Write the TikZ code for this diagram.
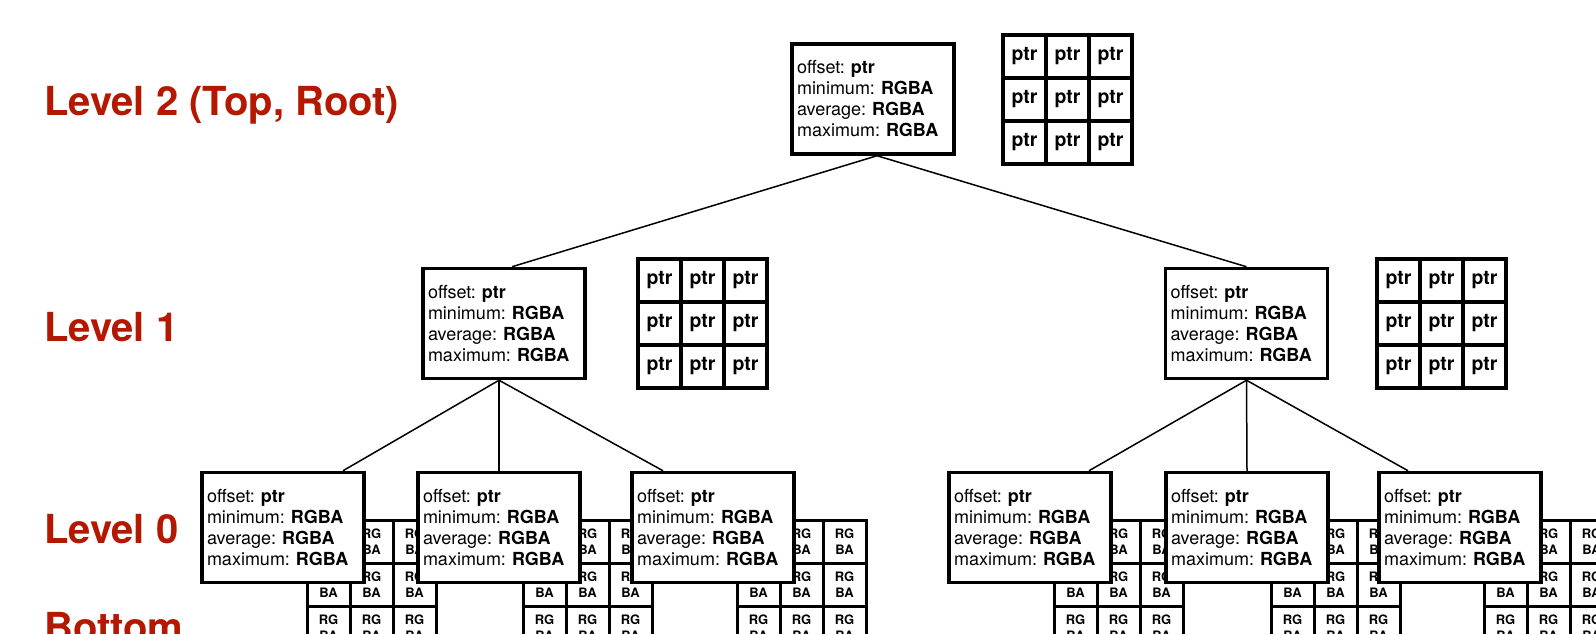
\documentclass[tikz,border=0pt]{standalone}
\usepackage{fontspec}
\setmainfont{TeX Gyre Heros}
\definecolor{levelred}{RGB}{180,24,0}
\frenchspacing
\begin{document}
\begin{tikzpicture}[x=1pt,y=-1pt,
  infobox/.style={draw, line width=3.5pt, fill=white, minimum width=162pt, minimum height=110pt,
    text width=152pt, inner sep=5pt, align=left, font=\fontsize{18}{21}\selectfont},
  rgcell/.style={draw, line width=3pt, fill=white, minimum size=43pt, inner sep=0pt, align=center,
    font=\fontsize{13}{16}\selectfont\bfseries},
  ptrcell/.style={draw, line width=3.5pt, fill=white, minimum size=43pt, inner sep=0pt,
    font=\fontsize{19.5}{22}\selectfont\bfseries},
  levellabel/.style={anchor=base west, inner sep=0pt, text=levelred,
    font=\fontsize{40}{44}\selectfont\bfseries},
  link/.style={line width=1.5pt}
]
\useasboundingbox (0,0) rectangle (1596,634);
\clip (0,0) rectangle (1596,634);

% level labels
\node[levellabel] (lab2) at (44,115) {Level 2 (Top, Root)};
\node[levellabel] (lab1) at (44,341) {Level 1};
\node[levellabel] (lab0) at (44,543) {Level 0};
\node[levellabel] (labb) at (44,641) {Bottom};

% RGBA grids behind level 0
\foreach \g/\gx in {a/307,b/523,c/737,d/1054,e/1271,f/1484} {
  \foreach \r in {0,1,2} {
    \foreach \c in {0,1,2} {
      \node[rgcell] (g\g-\r-\c) at ({\gx+21.5+43*\c},{520.5+21.5+43*\r}) {RG\\BA};
    }
  }
}

% pointer grids
\foreach \p/\px/\py in {r/1003/35, a/638/259, b/1377/259} {
  \foreach \r in {0,1,2} {
    \foreach \c in {0,1,2} {
      \node[ptrcell] (p\p-\r-\c) at ({\px+21.5+43*\c},{\py+21.5+43*\r}) {ptr};
    }
  }
}

\newcommand{\infotext}{offset: \textbf{ptr}\\minimum: \textbf{RGBA}\\average: \textbf{RGBA}\\maximum: \textbf{RGBA}}

\node[infobox] (root) at (873,99) {\infotext};
\node[infobox] (l1a) at (504,323.5) {\infotext};
\node[infobox] (l1b) at (1246.5,323.5) {\infotext};
\node[infobox] (l0a) at (283,527.5) {\infotext};
\node[infobox] (l0b) at (499,527.5) {\infotext};
\node[infobox] (l0c) at (713,527.5) {\infotext};
\node[infobox] (l0d) at (1030,527.5) {\infotext};
\node[infobox] (l0e) at (1247,527.5) {\infotext};
\node[infobox] (l0f) at (1460,527.5) {\infotext};

% connectors
\draw[link] ([xshift=4pt]root.south) -- ([xshift=8pt]l1a.north);
\draw[link] ([xshift=4pt]root.south) -- (l1b.north);
\draw[link] ([xshift=-5pt]l1a.south) -- ([xshift=60pt]l0a.north);
\draw[link] ([xshift=-5pt]l1a.south) -- (l0b.north);
\draw[link] ([xshift=-5pt]l1a.south) -- ([xshift=-50pt]l0c.north);
\draw[link] (l1b.south) -- ([xshift=59pt]l0d.north);
\draw[link] (l1b.south) -- (l0e.north);
\draw[link] (l1b.south) -- ([xshift=-52pt]l0f.north);
\end{tikzpicture}
\end{document}
